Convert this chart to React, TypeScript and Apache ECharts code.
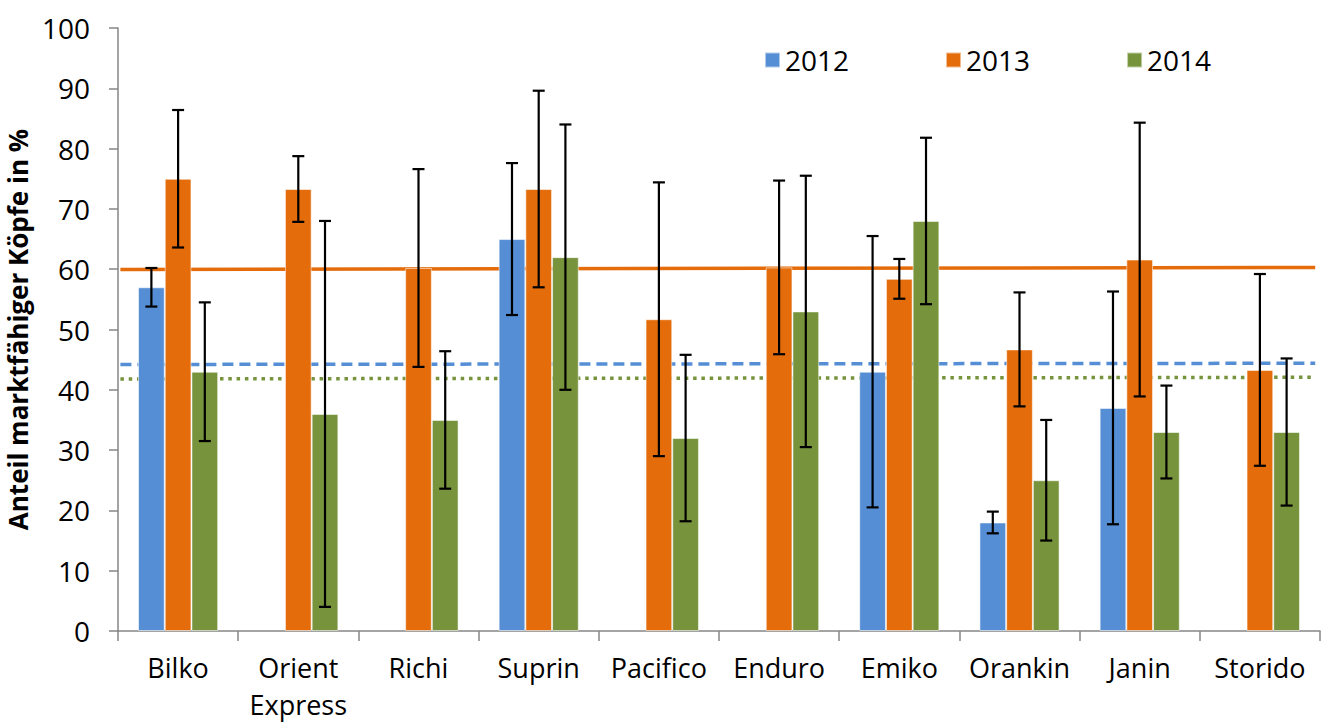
import React, { useEffect, useRef } from "react";
import * as echarts from "echarts";

const categories = ["Bilko", "Orient\nExpress", "Richi", "Suprin", "Pacifico", "Enduro", "Emiko", "Orankin", "Janin", "Storido"];
const years = ["2012", "2013", "2014"];

const values2012 = [57, null, null, 65, null, null, 43, 18, 37, null];
const errors2012 = [3.2, null, null, 12.6, null, null, 22.5, 1.8, 19.3, null];
const values2013 = [75, 73.3, 60.2, 73.3, 51.7, 60.3, 58.4, 46.7, 61.6, 43.3];
const errors2013 = [11.4, 5.45, 16.4, 16.3, 22.7, 14.4, 3.3, 9.45, 22.7, 15.9];
const values2014 = [43, 36, 35, 62, 32, 53, 68, 25, 33, 33];
const errors2014 = [11.5, 32, 11.4, 22, 13.8, 22.5, 13.8, 10, 7.7, 12.2];

const trendX = [0.02, 9.96];
const trend2012 = [44.2, 44.4];
const trend2013 = [59.95, 60.3];
const trend2014 = [41.8, 42.07];

const yTicks = { min: 0, max: 100, interval: 10 };

const colors = ["#558ED5", "#E46C0A", "#77933C"];
const FONT = "Open Sans";

export default function App() {
  const ref = useRef<HTMLDivElement>(null);
  useEffect(() => {
    if (!ref.current) return;
    const chart = echarts.init(ref.current, null, { renderer: "svg" });
    const allValues = [values2012, values2013, values2014];
    const allErrors = [errors2012, errors2013, errors2014];
    const errData: number[][] = [];
    allValues.forEach((vals, s) => {
      vals.forEach((v, i) => {
        const e = allErrors[s][i];
        if (v != null && e != null) errData.push([i, v - e, v + e, s]);
      });
    });
    const gapRatio = 1 / 3;
    const barSeries = allValues.map((vals, s) => ({
      name: years[s],
      type: "bar",
      xAxisIndex: 0,
      yAxisIndex: 0,
      data: vals.map((v) => (v == null ? "-" : v)),
      barGap: "0%",
      barCategoryGap: "33.33%",
      z: 3,
      itemStyle: { color: colors[s], borderColor: "rgba(255,255,255,0.55)", borderWidth: 1 },
    }));
    const trends = [trend2012, trend2013, trend2014];
    const trendStyles = [
      { width: 3.5, type: [11, 6] },
      { width: 3.5, type: "solid" },
      { width: 3.5, type: [3.5, 4.8] },
    ];
    const trendSeries = trends.map((t, s) => ({
      name: "trend" + years[s],
      type: "line",
      xAxisIndex: 1,
      yAxisIndex: 0,
      data: t.map((v, k) => [trendX[k], v]),
      symbol: "none",
      z: 1,
      lineStyle: { color: colors[s], width: trendStyles[s].width, type: trendStyles[s].type as any, cap: "butt" },
    }));
    const option: any = {
      animation: false,
      textStyle: { fontFamily: FONT },
      grid: { left: 118, right: 7, top: 28, bottom: 93, containLabel: false, outerBoundsMode: "none" },
      legend: {
        data: years,
        left: 759,
        top: 41,
        itemWidth: 15,
        itemHeight: 15,
        itemGap: 96,
        icon: "rect",
        textStyle: { fontSize: 28, color: "#000", fontFamily: FONT },
      },
      xAxis: [
        {
          type: "category",
          data: categories,
          axisLine: { lineStyle: { color: "#868686", width: 1.5 } },
          axisTick: { show: true, length: 10, lineStyle: { color: "#868686", width: 1.5 } },
          axisLabel: { interval: 0, fontSize: 27, color: "#000", lineHeight: 37, margin: 18, fontFamily: FONT },
        },
        { type: "value", min: 0, max: 10, show: false },
      ],
      yAxis: {
        type: "value",
        min: yTicks.min,
        max: yTicks.max,
        interval: yTicks.interval,
        name: "Anteil marktfähiger Köpfe in %",
        nameLocation: "middle",
        nameGap: 72,
        nameTextStyle: { fontSize: 26, fontWeight: "bold", color: "#000", fontFamily: FONT },
        axisLine: { show: true, lineStyle: { color: "#868686", width: 1.5 } },
        axisTick: { show: true, length: 9, lineStyle: { color: "#868686", width: 1.5 } },
        axisLabel: { fontSize: 28, color: "#000", margin: 28, fontFamily: FONT },
        splitLine: { show: false },
      },
      series: [
        ...trendSeries,
        ...barSeries,
        {
          name: "errors",
          type: "custom",
          xAxisIndex: 0,
          yAxisIndex: 0,
          z: 5,
          data: errData,
          renderItem: (params: any, api: any) => {
            const cat = api.value(0);
            const lo = api.value(1);
            const hi = api.value(2);
            const s = api.value(3);
            const band = api.size([1, 0])[0];
            const barW = (band * (1 - gapRatio)) / 3;
            const pLo = api.coord([cat, lo]);
            const pHi = api.coord([cat, hi]);
            const x = pLo[0] + (s - 1) * barW;
            const cap = 6;
            const style = { stroke: "#000", lineWidth: 2.2 };
            return {
              type: "group",
              children: [
                { type: "line", shape: { x1: x, y1: pLo[1], x2: x, y2: pHi[1] }, style },
                { type: "line", shape: { x1: x - cap, y1: pLo[1], x2: x + cap, y2: pLo[1] }, style },
                { type: "line", shape: { x1: x - cap, y1: pHi[1], x2: x + cap, y2: pHi[1] }, style },
              ],
            };
          },
        },
      ],
    };
    chart.setOption(option);
    return () => chart.dispose();
  }, []);
  return <div ref={ref} style={{ position: "absolute", left: 0, top: 0, width: 1327, height: 724 }} />;
}
